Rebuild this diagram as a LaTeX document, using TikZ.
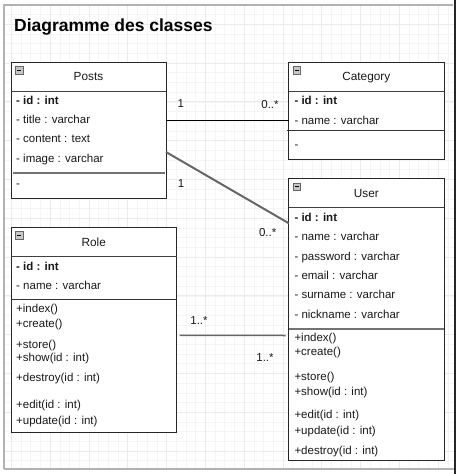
\documentclass[tikz,border=0pt]{standalone}
\usepackage{fontspec}
\setmainfont{Liberation Sans}
\usetikzlibrary{calc}
\tikzset{
  minorgrid/.style={draw=black!4, line width=0.6pt},
  majorgrid/.style={draw=black!8, line width=0.8pt},
  cls/.style={draw=black!85, line width=1pt, fill=white, anchor=north west, inner sep=0pt, outer sep=0pt},
  hdr/.style={draw=black!75, line width=0.9pt},
  septhick/.style={draw=black!55, line width=2pt},
  septhin/.style={draw=black!80, line width=1pt},
  row/.style={anchor=base west, inner sep=0pt, font=\fontsize{11.5}{13}\selectfont, text=black!90},
  rowb/.style={row, font=\fontsize{11.5}{13}\selectfont\bfseries},
  title/.style={anchor=base, inner sep=0pt, font=\fontsize{11.8}{13}\selectfont, text=black!90},
  mult/.style={anchor=base, inner sep=0pt, font=\fontsize{11.5}{13}\selectfont, text=black!90},
  assocA/.style={draw=black, line width=1.2pt},
  assocB/.style={draw=black!60, line width=2pt},
  assocC/.style={draw=black!60, line width=1.5pt},
  iconbox/.style={draw=black!60, fill=black!22, line width=0.6pt},
}
\newcommand{\minusicon}[2]{%
  \draw[iconbox] (#1,#2) rectangle ++(7.7,7.7);
  \draw[black, line width=1pt] ($(#1,#2)+(1.6,3.85)$) -- ++(4.5,0);
}
\begin{document}
\begin{tikzpicture}[x=1pt,y=-1pt]
\useasboundingbox (0,0) rectangle (460,474);
\fill[white] (0,0) rectangle (460,474);
% grid
\begin{scope}
  \clip (4,5) rectangle (455,469);
  \foreach \i in {0,...,47} {\draw[minorgrid] ({1.6+9.7*\i},0) -- ++(0,474);}
  \foreach \j in {0,...,48} {\draw[minorgrid] (0,{4.8+9.7*\j}) -- ++(460,0);}
  \foreach \i in {0,...,11} {\draw[majorgrid] ({11.3+38.8*\i},0) -- ++(0,474);}
  \foreach \j in {0,...,11} {\draw[majorgrid] (0,{24.2+38.8*\j}) -- ++(460,0);}
\end{scope}
% frame
\draw[black!30, line width=1.2pt] (4,469) -- (4,5) -- (453,5);
\draw[black!30, line width=1.2pt] (4,469) -- (455,469);
\draw[black!85, line width=1.2pt] (455,0) -- (455,474);

% title
\node[anchor=base west, inner sep=0pt, font=\fontsize{17.5}{20}\selectfont\bfseries] (ttl) at (14,31) {Diagramme des classes};

% ---------- Posts ----------
\node[cls, minimum width=155pt, minimum height=136pt] (posts) at (11,62) {};
\draw[hdr] (11,91) -- (166,91);
\minusicon{15.3}{66.3}
\node[title] (postsT) at (88.5,80.5) {Posts};
\node[rowb] (p1) at (16,104.5) {- id : int};
\node[row] (p2) at (16,123.5) {- title : varchar};
\node[row] (p3) at (16,142.5) {- content : text};
\node[row] (p4) at (16,162.5) {- image : varchar};
\draw[septhick] (13,173) -- (165,173);
\node[row] (p5) at (16,187.5) {-};

% ---------- Category ----------
\node[cls, minimum width=155.3pt, minimum height=97pt] (cat) at (288.7,62) {};
\draw[hdr] (288.7,91.3) -- (444,91.3);
\minusicon{293}{66.3}
\node[title] (catT) at (366.3,80.5) {Category};
\node[rowb] (c1) at (294.3,104.5) {- id : int};
\node[row] (c2) at (294.3,124.5) {- name : varchar};
\draw[septhin] (286.7,130.7) -- (444,130.7);
\node[row] (c3) at (294.3,148.5) {-};

% ---------- User ----------
\node[cls, minimum width=155.3pt, minimum height=282pt] (user) at (288.7,178.7) {};
\draw[hdr] (288.7,207.7) -- (444,207.7);
\minusicon{293}{183}
\node[title] (userT) at (366.3,197.2) {User};
\node[rowb] (u1) at (294.3,221.5) {- id : int};
\node[row] (u2) at (294.3,240.5) {- name : varchar};
\node[row] (u3) at (294.3,260.5) {- password : varchar};
\node[row] (u4) at (294.3,279.5) {- email : varchar};
\node[row] (u5) at (294.3,298.5) {- surname : varchar};
\node[row] (u6) at (294.3,318.5) {- nickname : varchar};
\draw[septhick] (289,328.7) -- (444,328.7);
\node[row] (um1) at (294.3,341.5) {+index()};
\node[row] (um2) at (294.3,355.5) {+create()};
\node[row] (um3) at (294.3,380.2) {+store()};
\node[row] (um4) at (294.3,395.5) {+show(id : int)};
\node[row] (um5) at (294.3,418.5) {+edit(id : int)};
\node[row] (um6) at (294.3,434.5) {+update(id : int)};
\node[row] (um7) at (294.3,454.5) {+destroy(id : int)};

% ---------- Role ----------
\node[cls, minimum width=165.7pt, minimum height=204.7pt] (role) at (11,227.3) {};
\draw[hdr] (11,256.7) -- (176.7,256.7);
\minusicon{15.3}{231.5}
\node[title] (roleT) at (93.8,246) {Role};
\node[rowb] (r1) at (16,270.2) {- id : int};
\node[row] (r2) at (16,289.5) {- name : varchar};
\draw[septhin] (11,299) -- (176,299);
\node[row] (rm1) at (16,312.5) {+index()};
\node[row] (rm2) at (16,327.2) {+create()};
\node[row] (rm3) at (16,348.5) {+store()};
\node[row] (rm4) at (16,361.5) {+show(id : int)};
\node[row] (rm5) at (16,381.5) {+destroy(id : int)};
\node[row] (rm6) at (16,408.5) {+edit(id : int)};
\node[row] (rm7) at (16,424.5) {+update(id : int)};

% ---------- connectors ----------
\draw[assocA] (posts.east |- 0,120.5) -- (cat.west |- 0,120.5);
\draw[assocB] ($(posts.north east)+(0,90)$) -- ($(user.north west)+(0,44.5)$);
\draw[assocC] ($(role.north east)+(3,108)$) -- ($(user.north west)+(-3,156.8)$);

% multiplicities
\node[mult] (m1) at (180.7,107.5) {1};
\node[mult] (m2) at (270,108.5) {0..*};
\node[mult] (m3) at (181,187.5) {1};
\node[mult] (m4) at (267.7,236.5) {0..*};
\node[mult] (m5) at (199,324.5) {1..*};
\node[mult] (m6) at (265,361) {1..*};
\end{tikzpicture}
\end{document}
